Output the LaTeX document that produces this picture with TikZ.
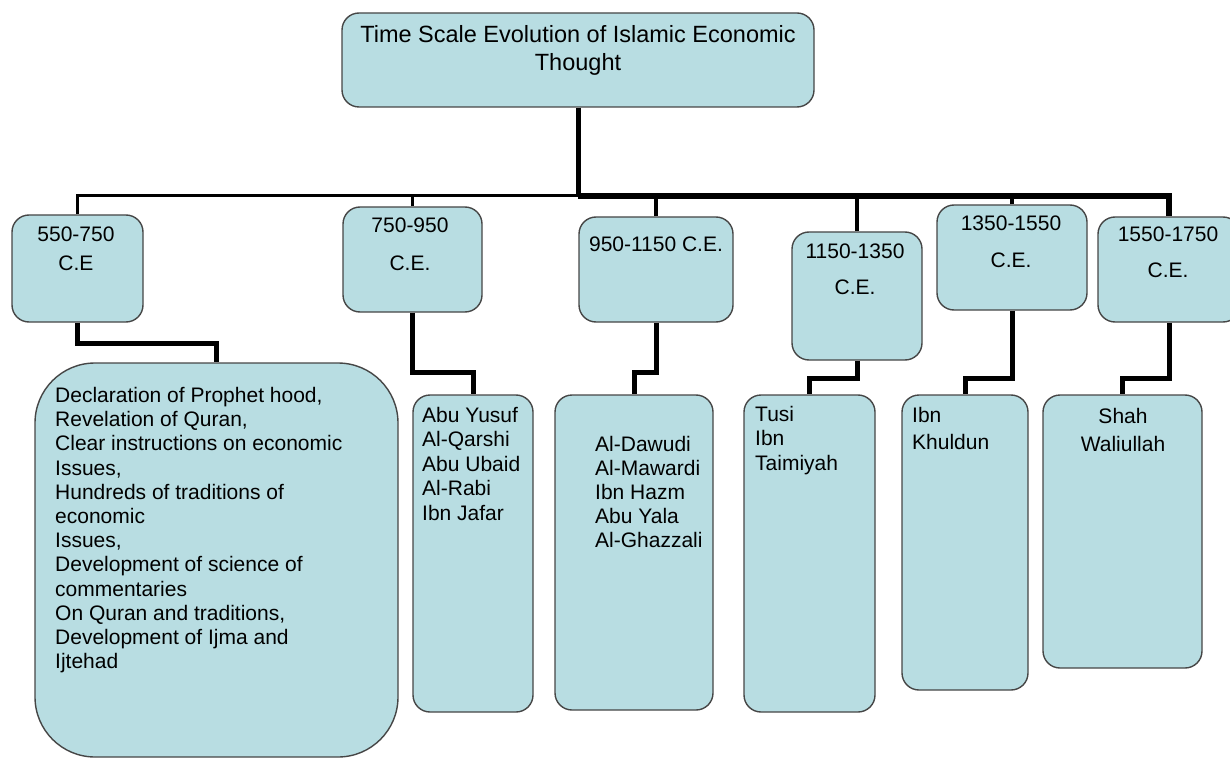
\documentclass[tikz,border=0pt]{standalone}
\usepackage{fontspec}
\setmainfont{Liberation Sans}
\definecolor{boxfill}{RGB}{184,221,226}
\definecolor{boxline}{RGB}{70,70,70}

\begin{document}
\begin{tikzpicture}[x=1pt,y=-1pt,
  box/.style={draw=boxline, fill=boxfill, line width=1.4pt, rounded corners=17pt, inner sep=0pt},
  wire/.style={line width=5pt},
  thinwire/.style={line width=3pt},
  txt/.style={inner sep=0pt, anchor=north, align=center, font=\fontsize{21}{24.4}\selectfont}]
\useasboundingbox (0,0) rectangle (1230,759);

\node[box, minimum width=472pt, minimum height=94pt] (title) at (578,60) {};
\node[txt, font=\fontsize{23.5}{28}\selectfont] (ttl) at (578,25) {Time Scale Evolution of Islamic Economic\\Thought};

\node[box, minimum width=131pt, minimum height=107pt] (p1) at (77.5,268.5) {};
\node[box, minimum width=139pt, minimum height=105pt] (p2) at (412.5,259.5) {};
\node[box, minimum width=154pt, minimum height=105pt] (p3) at (656,269.5) {};
\node[box, minimum width=130pt, minimum height=128pt] (p4) at (857,296) {};
\node[box, minimum width=150pt, minimum height=105pt] (p5) at (1012,257.5) {};
\node[box, minimum width=142pt, minimum height=105pt] (p6) at (1169,269.5) {};

\node[txt, font=\fontsize{21}{29}\selectfont] (t1) at (76,227) {550-750\\C.E};
\node[txt, font=\fontsize{21}{38}\selectfont] (t2) at (410,218) {750-950\\C.E.};
\node[txt] (t3) at (656,237) {950-1150 C.E.};
\node[txt, font=\fontsize{21}{36}\selectfont] (t4) at (855,244) {1150-1350\\C.E.};
\node[txt, font=\fontsize{21}{37}\selectfont] (t5) at (1011,216) {1350-1550\\C.E.};
\node[txt, font=\fontsize{21}{36}\selectfont] (t6) at (1168,227) {1550-1750\\C.E.};

\node[box, rounded corners=60pt, minimum width=363pt, minimum height=394pt] (dA) at (216.5,560) {};
\node[box, minimum width=120pt, minimum height=317pt] (dB) at (473,553.5) {};
\node[box, minimum width=158pt, minimum height=315pt] (dC) at (634,552.5) {};
\node[box, minimum width=131pt, minimum height=317pt] (dD) at (809.5,553.5) {};
\node[box, minimum width=126pt, minimum height=295pt] (dE) at (965,542.5) {};
\node[box, minimum width=159pt, minimum height=273pt] (dF) at (1122.5,531.5) {};

\node[txt, anchor=north west, align=left, font=\fontsize{21}{24.2}\selectfont] (tA) at (55,387)
  {Declaration of Prophet hood,\\Revelation of Quran,\\Clear instructions on economic\\Issues,\\Hundreds of traditions of\\economic\\Issues,\\Development of science of\\commentaries\\On Quran and traditions,\\Development of Ijma and\\Ijtehad};
\node[txt, anchor=north west, align=left, font=\fontsize{21}{24.5}\selectfont] (tB) at (422,407)
  {Abu Yusuf\\Al-Qarshi\\Abu Ubaid\\Al-Rabi\\Ibn Jafar};
\node[txt, anchor=north west, align=left, font=\fontsize{21}{24}\selectfont] (tC) at (595,436)
  {Al-Dawudi\\Al-Mawardi\\Ibn Hazm\\Abu Yala\\Al-Ghazzali};
\node[txt, anchor=north west, align=left, font=\fontsize{21}{24.5}\selectfont] (tD) at (755,406)
  {Tusi\\Ibn\\Taimiyah};
\node[txt, anchor=north west, align=left, font=\fontsize{21}{27}\selectfont] (tE) at (912,407)
  {Ibn\\Khuldun};
\node[txt, font=\fontsize{21}{28}\selectfont] (tF) at (1123,408) {Shah\\Waliullah};

\draw[wire] (title.south) -- ++(0,88) coordinate (hub);
\draw[thinwire] (p1.north) |- (hub);
\draw[thinwire] (p2.north) |- (hub);
\draw[wire, line width=6pt] (hub) -| (p6.north);
\foreach \p in {p3,p4,p5}
  \draw[wire, line width=4pt] (\p.north) |- (hub);

\draw[wire] (p1.south) -- ++(0,21) -| (dA.north);
\draw[wire] (p2.south) -- ++(0,60) -| (dB.north);
\draw[wire] (p3.south) -- ++(0,50) -| (dC.north);
\draw[wire] (p4.south) -- ++(0,18) -| (dD.north);
\draw[wire] (p5.south) -- ++(0,68) -| (dE.north);
\draw[wire] (p6.south) -- ++(0,56) -| (dF.north);
\end{tikzpicture}
\end{document}
